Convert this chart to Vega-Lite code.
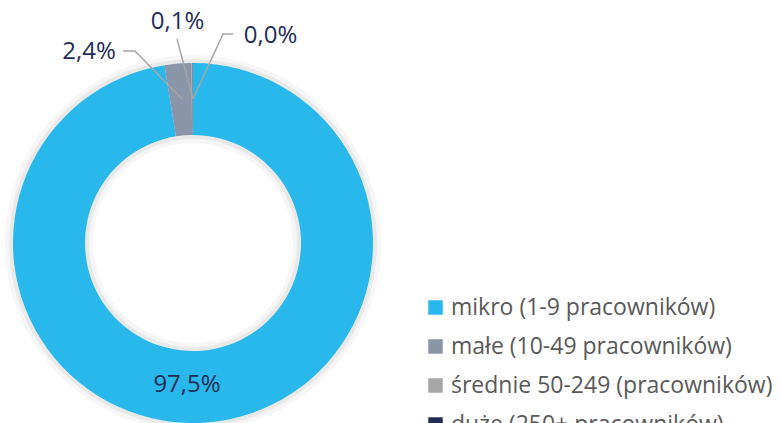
{
  "$schema": "https://vega.github.io/schema/vega-lite/v6.json",
  "width": 781,
  "height": 423,
  "padding": 0,
  "autosize": "none",
  "background": "white",
  "config": {"view": {"stroke": null}, "font": "Open Sans"},
  "datasets": {
    "slices": [
      {"cat": "mikro (1-9 pracowników)", "value": 97.5, "ord": 1},
      {"cat": "małe (10-49 pracowników)", "value": 2.4, "ord": 2},
      {"cat": "średnie 50-249 (pracowników)", "value": 0.1, "ord": 3},
      {"cat": "duże (250+ pracowników)", "value": 0.03, "ord": 4}
    ],
    "shadow": [{"v": 1}],
    "labels": [
      {"text": "97,5%", "lx": -6, "ly": -142},
      {"text": "2,4%", "lx": -104, "ly": 191},
      {"text": "0,1%", "lx": -15.5, "ly": 221},
      {"text": "0,0%", "lx": 77.5, "ly": 207}
    ],
    "leaders": [
      {"lab": "a", "p": 1, "px": -70, "py": 192},
      {"lab": "a", "p": 2, "px": -58, "py": 192},
      {"lab": "a", "p": 3, "px": -11, "py": 144},
      {"lab": "b", "p": 1, "px": -16, "py": 204},
      {"lab": "b", "p": 2, "px": 0, "py": 144},
      {"lab": "c", "p": 1, "px": 40, "py": 209},
      {"lab": "c", "p": 2, "px": 30, "py": 209},
      {"lab": "c", "p": 3, "px": 0, "py": 144}
    ]
  },
  "layer": [
    {
      "data": {"name": "shadow"},
      "mark": {"type": "arc", "outerRadius": 188, "innerRadius": 100, "theta": 0, "theta2": 6.2832, "color": "#000000", "opacity": 0.035},
      "encoding": {
        "x": {"datum": 0, "type": "quantitative", "scale": {"domain": [-193, 588], "nice": false, "zero": false}, "axis": null},
        "y": {"datum": 0, "type": "quantitative", "scale": {"domain": [-180, 243], "nice": false, "zero": false}, "axis": null}
      }
    },
    {
      "data": {"name": "shadow"},
      "mark": {"type": "arc", "outerRadius": 184, "innerRadius": 104, "theta": 0, "theta2": 6.2832, "color": "#000000", "opacity": 0.05},
      "encoding": {
        "x": {"datum": 0, "type": "quantitative"},
        "y": {"datum": 0, "type": "quantitative"}
      }
    },
    {
      "data": {"name": "slices"},
      "mark": {"type": "arc", "outerRadius": 180, "innerRadius": 108},
      "encoding": {
        "x": {"datum": 0, "type": "quantitative"},
        "y": {"datum": 0, "type": "quantitative"},
        "theta": {"field": "value", "type": "quantitative", "stack": true},
        "order": {"field": "ord", "type": "quantitative"},
        "color": {
          "field": "cat",
          "type": "nominal",
          "sort": null,
          "scale": {
            "domain": ["mikro (1-9 pracowników)", "małe (10-49 pracowników)", "średnie 50-249 (pracowników)", "duże (250+ pracowników)"],
            "range": ["#29B8EB", "#8A95A8", "#A6A6A6", "#1F2D56"]
          },
          "legend": {
            "title": null,
            "orient": "none",
            "legendX": 424,
            "legendY": 296,
            "symbolType": "square",
            "symbolSize": 210,
            "symbolStrokeWidth": 0,
            "labelFontSize": 23,
            "labelColor": "#595959",
            "labelFont": "Open Sans",
            "labelLimit": 400,
            "labelOffset": 4,
            "rowPadding": 15
          }
        }
      }
    },
    {
      "data": {"name": "leaders"},
      "mark": {"type": "line", "color": "#A6A6A6", "strokeWidth": 1.5},
      "encoding": {
        "x": {"field": "px", "type": "quantitative"},
        "y": {"field": "py", "type": "quantitative"},
        "detail": {"field": "lab"},
        "order": {"field": "p", "type": "quantitative"}
      }
    },
    {
      "data": {"name": "labels"},
      "mark": {"type": "text", "fontSize": 24, "color": "#1F2D56", "font": "Open Sans", "align": "center", "baseline": "middle"},
      "encoding": {
        "x": {"field": "lx", "type": "quantitative"},
        "y": {"field": "ly", "type": "quantitative"},
        "text": {"field": "text"}
      }
    }
  ]
}
